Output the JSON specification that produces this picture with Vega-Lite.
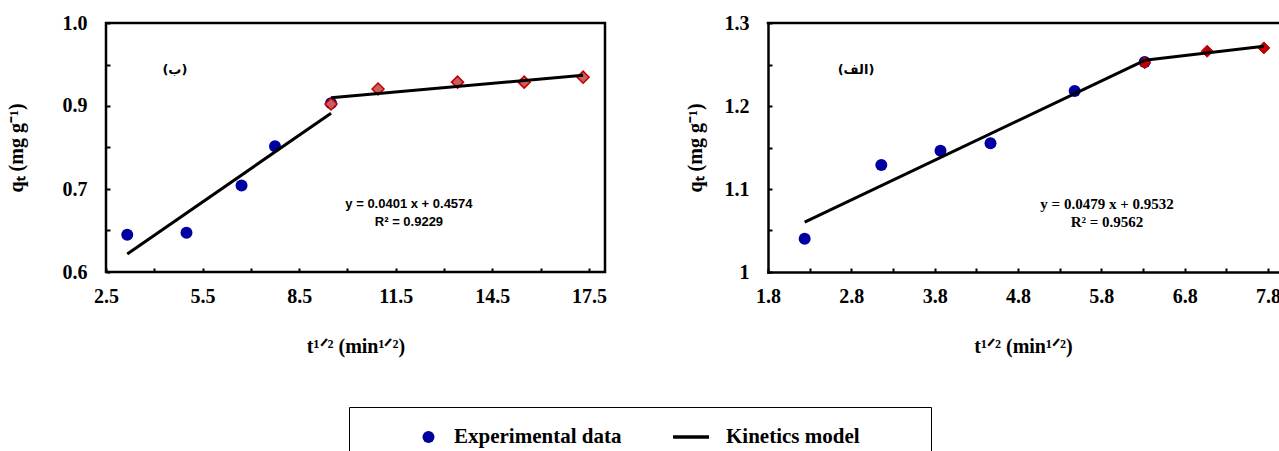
{
  "$schema": "https://vega.github.io/schema/vega-lite/v6.json",
  "background": "white",
  "padding": {"left": 4, "top": 11, "right": 0, "bottom": 0},
  "autosize": {"type": "pad"},
  "spacing": 77,
  "config": {
    "font": "Liberation Serif",
    "axis": {
      "labelFont": "Liberation Serif", "labelFontSize": 20, "labelFontWeight": "bold", "labelColor": "black",
      "titleFont": "Liberation Serif", "titleFontSize": 20, "titleFontWeight": "bold", "titleColor": "black",
      "grid": false, "tickColor": "black", "tickWidth": 2, "tickSize": -4,
      "labelFlush": false, "labelOverlap": false,
      "domainColor": "black", "domainWidth": 2.5, "domainCap": "square"
    },
    "axisX": {"labelPadding": 18, "titlePadding": 30},
    "axisY": {"labelPadding": 23},
    "legend": {
      "orient": "none", "legendX": 243, "legendY": 384, "direction": "horizontal",
      "padding": 20, "strokeColor": "black", "clipHeight": 20,
      "labelFont": "Liberation Serif", "labelFontSize": 21, "labelFontWeight": "bold", "labelColor": "black", "labelLimit": 300,
      "symbolOffset": 49, "labelOffset": 15, "columnPadding": -6,
      "titleOrient": "right", "titlePadding": 51
    }
  },
  "datasets": {
    "pts": [
      {"panel": "L", "stage": "1", "group": "Experimental data", "t": 3.16, "q": 0.660},
      {"panel": "L", "stage": "1", "group": "Experimental data", "t": 5.00, "q": 0.663},
      {"panel": "L", "stage": "1", "group": "Experimental data", "t": 6.71, "q": 0.739},
      {"panel": "L", "stage": "1", "group": "Experimental data", "t": 7.75, "q": 0.802},
      {"panel": "L", "stage": "1", "group": "Experimental data", "t": 9.49, "q": 0.871},
      {"panel": "L", "stage": "2", "group": "Equilibrium stage", "t": 9.49, "q": 0.870},
      {"panel": "L", "stage": "2", "group": "Equilibrium stage", "t": 10.95, "q": 0.894},
      {"panel": "L", "stage": "2", "group": "Equilibrium stage", "t": 13.42, "q": 0.905},
      {"panel": "L", "stage": "2", "group": "Equilibrium stage", "t": 15.49, "q": 0.905},
      {"panel": "L", "stage": "2", "group": "Equilibrium stage", "t": 17.32, "q": 0.913},
      {"panel": "R", "stage": "1", "group": "Experimental data", "t": 2.24, "q": 1.040},
      {"panel": "R", "stage": "1", "group": "Experimental data", "t": 3.16, "q": 1.129},
      {"panel": "R", "stage": "1", "group": "Experimental data", "t": 3.87, "q": 1.146},
      {"panel": "R", "stage": "1", "group": "Experimental data", "t": 4.47, "q": 1.155},
      {"panel": "R", "stage": "1", "group": "Experimental data", "t": 5.48, "q": 1.218},
      {"panel": "R", "stage": "1", "group": "Experimental data", "t": 6.32, "q": 1.253},
      {"panel": "R", "stage": "2", "group": "Equilibrium stage", "t": 6.32, "q": 1.252},
      {"panel": "R", "stage": "2", "group": "Equilibrium stage", "t": 7.07, "q": 1.266},
      {"panel": "R", "stage": "2", "group": "Equilibrium stage", "t": 7.75, "q": 1.270}
    ],
    "fit": [
      {"panel": "L", "seg": "a", "t": 3.16, "q": 0.629},
      {"panel": "L", "seg": "a", "t": 9.49, "q": 0.855},
      {"panel": "L", "seg": "b", "t": 9.49, "q": 0.880},
      {"panel": "L", "seg": "b", "t": 17.32, "q": 0.916},
      {"panel": "R", "seg": "a", "t": 2.24, "q": 1.060},
      {"panel": "R", "seg": "a", "t": 6.32, "q": 1.255},
      {"panel": "R", "seg": "b", "t": 6.32, "q": 1.255},
      {"panel": "R", "seg": "b", "t": 7.75, "q": 1.272}
    ]
  },
  "hconcat": [
    {
      "width": 499, "height": 249,
      "view": {"stroke": "black", "strokeWidth": 2.5},
      "layer": [
        {
          "data": {"name": "pts"},
          "transform": [{"filter": "datum.panel == 'L' && datum.stage == '1'"}],
          "mark": {"type": "point", "filled": true, "opacity": 1},
          "encoding": {
            "x": {"field": "t", "type": "quantitative", "scale": {"domain": [2.5, 18], "nice": false, "zero": false},
              "axis": {"values": [2.5, 4, 5.5, 7, 8.5, 10, 11.5, 13, 14.5, 16, 17.5], "labelExpr": "(datum.value - 2.5) % 3 == 0 ? format(datum.value, '.1f') : ''", "domain": false, "title": "t¹ᐟ² (min¹ᐟ²)"}},
            "y": {"field": "q", "type": "quantitative", "scale": {"domain": [0.6, 1.0], "nice": false, "zero": false},
              "axis": {"values": [0.6, 0.666667, 0.733333, 0.8, 0.866667, 0.933333, 1.0], "labelExpr": "['0.6','','0.7','','0.9','','1.0'][round((datum.value - 0.6) * 15)]", "domain": false, "title": "qₜ (mg g⁻¹)", "titlePadding": 36}},
            "color": {"field": "group", "type": "nominal", "scale": {"domain": ["Experimental data", "Kinetics model"], "range": ["#0000a0", "#000000"]}, "legend": {"title": " "}},
            "stroke": {"field": "group", "type": "nominal", "scale": {"domain": ["Experimental data", "Kinetics model"], "range": ["#0000a0", "#000000"]}, "legend": {"title": " "}},
            "shape": {"field": "group", "type": "nominal", "scale": {"domain": ["Experimental data", "Kinetics model"], "range": ["circle", "stroke"]}, "legend": {"title": " "}},
            "size": {"field": "group", "type": "nominal", "scale": {"type": "ordinal", "domain": ["Experimental data", "Kinetics model"], "range": [144, 1296]}, "legend": {"title": " "}},
            "strokeWidth": {"field": "group", "type": "nominal", "scale": {"type": "ordinal", "domain": ["Experimental data", "Kinetics model"], "range": [0, 3.5]}, "legend": {"title": " "}}
          }
        },
        {
          "data": {"name": "pts"},
          "transform": [{"filter": "datum.panel == 'L' && datum.stage == '2'"}],
          "mark": {"type": "point", "shape": "diamond", "filled": true, "size": 144, "opacity": 1, "fill": "#cd5c5c", "stroke": "#c00000", "strokeWidth": 1.5},
          "encoding": {"x": {"field": "t", "type": "quantitative"}, "y": {"field": "q", "type": "quantitative"}}
        },
        {
          "data": {"name": "fit"},
          "transform": [{"filter": "datum.panel == 'L'"}],
          "mark": {"type": "line", "color": "black", "strokeWidth": 3},
          "encoding": {"x": {"field": "t", "type": "quantitative"}, "y": {"field": "q", "type": "quantitative"}, "detail": {"field": "seg"}}
        },
        {
          "data": {"values": [{"txt": "(ب)"}]},
          "mark": {"type": "text", "font": "DejaVu Sans", "fontWeight": "bold", "fontSize": 13, "color": "black"},
          "encoding": {"x": {"datum": 4.64, "type": "quantitative"}, "y": {"datum": 0.924, "type": "quantitative"}, "text": {"field": "txt"}}
        },
        {
          "data": {"values": [{"txt": "y = 0.0401 x + 0.4574\nR² = 0.9229"}]},
          "mark": {"type": "text", "font": "Liberation Sans", "fontWeight": "bold", "fontSize": 13, "color": "black", "lineBreak": "\n", "lineHeight": 18},
          "encoding": {"x": {"datum": 11.91, "type": "quantitative"}, "y": {"datum": 0.7097, "type": "quantitative"}, "text": {"field": "txt"}}
        }
      ]
    },
    {
      "width": 510, "height": 249,
      "view": {"stroke": null},
      "layer": [
        {
          "data": {"name": "pts"},
          "transform": [{"filter": "datum.panel == 'R' && datum.stage == '1'"}],
          "mark": {"type": "point", "filled": true, "opacity": 1},
          "encoding": {
            "x": {"field": "t", "type": "quantitative", "scale": {"domain": [1.8, 7.92], "nice": false, "zero": false},
              "axis": {"values": [1.8, 2.3, 2.8, 3.3, 3.8, 4.3, 4.8, 5.3, 5.8, 6.3, 6.8, 7.3, 7.8], "labelExpr": "round(datum.value * 10) % 10 == 8 ? format(datum.value, '.1f') : ''", "domain": true, "title": "t¹ᐟ² (min¹ᐟ²)"}},
            "y": {"field": "q", "type": "quantitative", "scale": {"domain": [1.0, 1.3], "nice": false, "zero": false},
              "axis": {"values": [1.0, 1.05, 1.1, 1.15, 1.2, 1.25, 1.3], "labelExpr": "round(datum.value * 100) % 10 == 0 ? (round(datum.value * 10) == 10 ? '1' : format(datum.value, '.1f')) : ''", "domain": true, "title": "qₜ (mg g⁻¹)", "titlePadding": 19}},
            "color": {"field": "group", "type": "nominal", "scale": {"domain": ["Experimental data", "Kinetics model"], "range": ["#0000a0", "#000000"]}, "legend": {"title": " "}},
            "stroke": {"field": "group", "type": "nominal", "scale": {"domain": ["Experimental data", "Kinetics model"], "range": ["#0000a0", "#000000"]}, "legend": {"title": " "}},
            "shape": {"field": "group", "type": "nominal", "scale": {"domain": ["Experimental data", "Kinetics model"], "range": ["circle", "stroke"]}, "legend": {"title": " "}},
            "size": {"field": "group", "type": "nominal", "scale": {"type": "ordinal", "domain": ["Experimental data", "Kinetics model"], "range": [144, 1296]}, "legend": {"title": " "}},
            "strokeWidth": {"field": "group", "type": "nominal", "scale": {"type": "ordinal", "domain": ["Experimental data", "Kinetics model"], "range": [0, 3.5]}, "legend": {"title": " "}}
          }
        },
        {
          "data": {"name": "pts"},
          "transform": [{"filter": "datum.panel == 'R' && datum.stage == '2'"}],
          "mark": {"type": "point", "shape": "diamond", "filled": true, "size": 144, "opacity": 1, "fill": "#c00000", "stroke": "#c00000", "strokeWidth": 1},
          "encoding": {"x": {"field": "t", "type": "quantitative"}, "y": {"field": "q", "type": "quantitative"}}
        },
        {
          "data": {"name": "fit"},
          "transform": [{"filter": "datum.panel == 'R'"}],
          "mark": {"type": "line", "color": "black", "strokeWidth": 3},
          "encoding": {"x": {"field": "t", "type": "quantitative"}, "y": {"field": "q", "type": "quantitative"}, "detail": {"field": "seg"}}
        },
        {
          "data": {"values": [{"edge": "top"}]},
          "mark": {"type": "rule", "color": "black", "strokeWidth": 2.5, "strokeCap": "square"},
          "encoding": {"y": {"datum": 1.3, "type": "quantitative"}}
        },
        {
          "data": {"values": [{"txt": "(الف)"}]},
          "mark": {"type": "text", "font": "DejaVu Sans", "fontWeight": "bold", "fontSize": 13, "color": "black"},
          "encoding": {"x": {"datum": 2.856, "type": "quantitative"}, "y": {"datum": 1.243, "type": "quantitative"}, "text": {"field": "txt"}}
        },
        {
          "data": {"values": [{"txt": "y = 0.0479 x + 0.9532\nR² = 0.9562"}]},
          "mark": {"type": "text", "font": "Liberation Serif", "fontWeight": "bold", "fontSize": 15, "color": "black", "lineBreak": "\n", "lineHeight": 18},
          "encoding": {"x": {"datum": 5.868, "type": "quantitative"}, "y": {"datum": 1.0823, "type": "quantitative"}, "text": {"field": "txt"}}
        }
      ]
    }
  ]
}
